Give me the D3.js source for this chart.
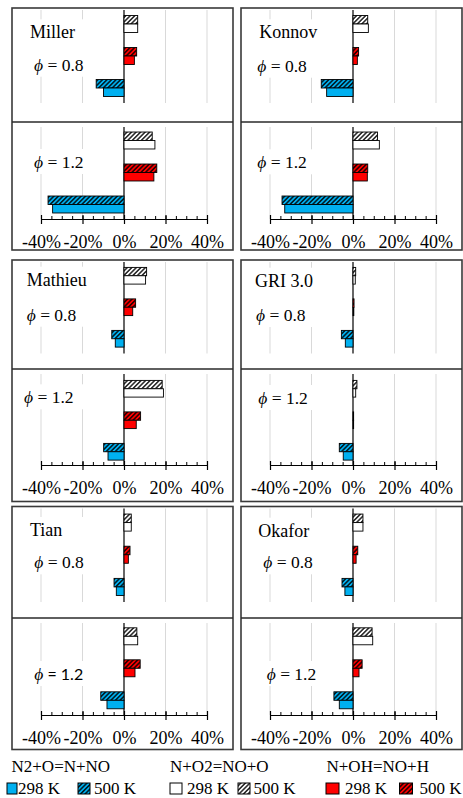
<!DOCTYPE html>
<html>
<head>
<meta charset="utf-8">
<script src="https://cdn.jsdelivr.net/npm/d3@7"></script>
<style>
  body { margin: 0; background: #fff; }
  text { font-family: "Liberation Serif", "Times New Roman", serif; fill: #000; }
</style>
</head>
<body>
<svg id="chart" width="463" height="798"></svg>
<script>
// mechanisms, drawn row by row (left, right)
const mechanisms = ["Miller", "Konnov", "Mathieu", "GRI 3.0", "Tian", "Okafor"];
const phiValues = ["0.8", "1.2"];
// reactions from top to bottom inside each box
const reactions = ["N+O2=NO+O", "N+OH=NO+H", "N2+O=N+NO"];
const temperatures = ["500 K", "298 K"];

// sensitivity in %, order: Miller 0.8, Miller 1.2, Konnov 0.8, Konnov 1.2, ... Okafor 1.2
const nO2_500  = [6.6, 13.6, 7.1, 11.8, 10.9, 18.4, 1.3, 1.9, 3.5, 6.2, 4.8, 9.2];
const nO2_298  = [6.6, 14.9, 7.4, 12.7, 10.4, 19.0, 1.1, 1.3, 3.5, 6.6, 4.8, 9.5];
const nOH_500  = [6.1, 15.8, 2.7, 7.1, 5.6, 8.0, 0.5, 0.3, 2.9, 7.8, 2.3, 4.4];
const nOH_298  = [5.0, 14.4, 2.1, 6.9, 4.2, 5.9, 0.4, 0.3, 2.1, 5.3, 1.5, 2.9];
const n2O_500  = [-13.4, -36.6, -15.3, -34.2, -5.9, -9.8, -5.6, -6.6, -4.8, -11.2, -5.3, -9.2];
const n2O_298  = [-9.9, -34.4, -12.7, -32.9, -4.2, -7.7, -3.7, -4.7, -3.7, -8.2, -3.9, -6.6];

const xTicks = [-40, -20, 0, 20, 40];
const xMinorTicks = d3.range(-40, 41, 5);
const gridTicks = [-40, -20, 20, 40];

const colors = { "N2+O=N+NO": "#00B0F0", "N+O2=NO+O": "#FFFFFF", "N+OH=NO+H": "#FF0000" };

const valueTable = {
  "N+O2=NO+O": { "500 K": nO2_500, "298 K": nO2_298 },
  "N+OH=NO+H": { "500 K": nOH_500, "298 K": nOH_298 },
  "N2+O=N+NO": { "500 K": n2O_500, "298 K": n2O_298 }
};

// layout of the panel grid
const colLeft = [12, 241];
const colWidth = 221;
const rows = [
  { top: 8,     div: 122, bottom: 250,   axis: 219, plots: [[8, 104], [124.5, 220.5]] },
  { top: 260,   div: 369, bottom: 501.5, axis: 465, plots: [[260, 354.5], [373, 467.5]] },
  { top: 506.5, div: 618, bottom: 749.5, axis: 715, plots: [[506.5, 603], [620.3, 716.3]] }
];
// label anchors [name, phi 0.8, phi 1.2]
const labelPos = [
  [[30, 38.3], [34, 70.7], [34, 168]],
  [[259.3, 38.3], [257.3, 71.7], [257.3, 168.3]],
  [[26.7, 285.7], [26.7, 320.7], [24, 403.3]],
  [[255, 286.7], [256, 321], [258.3, 404]],
  [[30, 536], [34.3, 568.3], [34.3, 680]],
  [[258.3, 536.7], [263.3, 568.3], [266.7, 680]]
];

const svg = d3.select("#chart");
const defs = svg.append("defs");

// hatch patterns for the 500 K bars
Object.keys(colors).forEach(function(r, i) {
  const p = defs.append("pattern")
    .attr("id", "hatch" + i)
    .attr("patternUnits", "userSpaceOnUse")
    .attr("width", 3.2).attr("height", 3.2)
    .attr("patternTransform", "rotate(45)");
  p.append("rect").attr("width", 3.2).attr("height", 3.2).attr("fill", colors[r]);
  p.append("line").attr("x1", 0.8).attr("y1", 0).attr("x2", 0.8).attr("y2", 3.2)
    .attr("stroke", "#000").attr("stroke-width", 1.3);
});
const hatchId = {};
Object.keys(colors).forEach(function(r, i) { hatchId[r] = "url(#hatch" + i + ")"; });

function fillFor(r, t) {
  return t === "500 K" ? hatchId[r] : colors[r];
}

function phiLabel(g, x, y, value, family) {
  const t = g.append("text").attr("x", x).attr("y", y).style("font-size", "17.5px");
  t.append("tspan").style("font-style", "italic").text("\u03D5");
  t.append("tspan").style("font-family", family || null)
    .style("font-size", family ? "16px" : null).text(" = " + value);
  return t;
}

mechanisms.forEach(function(mech, m) {
  const row = rows[Math.floor(m / 2)];
  const left = colLeft[m % 2];
  const g = svg.append("g");

  const x = d3.scaleLinear().domain([-40, 40]).range([left + 29, left + 195]);

  phiValues.forEach(function(phi, p) {
    const idx = m * 2 + p;
    const [y0, y1] = row.plots[p];
    const lineTop = p === 0 ? row.top + 2 : row.div + 5;
    const lineBottom = p === 0 ? y1 - 1 : row.axis;

    // gridlines
    g.selectAll(null).data(gridTicks).enter().append("line")
      .attr("x1", d => x(d)).attr("x2", d => x(d))
      .attr("y1", lineTop).attr("y2", lineBottom)
      .attr("stroke", "#D9D9D9").attr("stroke-width", 1);

    // white box behind the labels
    const lab = g.append("g");
    let texts = [];
    if (p === 0) {
      texts.push(lab.append("text").attr("x", labelPos[m][0][0]).attr("y", labelPos[m][0][1])
        .style("font-size", "18px").text(mech));
      texts.push(phiLabel(lab, labelPos[m][1][0], labelPos[m][1][1], phi));
    } else {
      texts.push(phiLabel(lab, labelPos[m][2][0], labelPos[m][2][1], phi, mech === "Tian" ? "Lato" : null));
    }
    const boxes = texts.map(t => t.node().getBBox());
    const bTop = d3.min(boxes, b => b.y) - 3;
    const bBot = d3.max(boxes, b => b.y + b.height) + 2;
    lab.insert("rect", "text")
      .attr("x", left + 2).attr("y", bTop)
      .attr("width", x(0) - left - 3).attr("height", bBot - bTop)
      .attr("fill", "#fff");

    const yR = d3.scaleBand().domain(reactions).range([y0, y1]).paddingInner(0.47).paddingOuter(0.235);
    const yT = d3.scaleBand().domain(temperatures).range([0, yR.bandwidth()]);

    // zero line
    g.append("line")
      .attr("x1", x(0)).attr("x2", x(0))
      .attr("y1", lineTop).attr("y2", lineBottom)
      .attr("stroke", "#000").attr("stroke-width", 1.2);

    const bars = [];
    reactions.forEach(function(r) {
      temperatures.forEach(function(t) {
        bars.push({ r: r, t: t, v: valueTable[r][t][idx] });
      });
    });
    g.selectAll(null).data(bars).enter().append("rect")
      .attr("x", d => x(Math.min(0, d.v)))
      .attr("y", d => yR(d.r) + yT(d.t))
      .attr("width", d => Math.abs(x(d.v) - x(0)))
      .attr("height", yT.bandwidth())
      .attr("fill", d => fillFor(d.r, d.t))
      .attr("stroke", "#000").attr("stroke-width", 0.9);

    lab.raise();
  });

  // x axis at the bottom of the phi = 1.2 box
  const minor = g.append("g").attr("transform", "translate(0," + row.axis + ")")
    .call(d3.axisBottom(x).tickValues(xMinorTicks).tickSize(-3).tickSizeOuter(0).tickFormat(""));
  minor.select(".domain").remove();
  minor.selectAll("line").attr("stroke", "#000");

  const ax = g.append("g").attr("transform", "translate(0," + row.axis + ")")
    .call(d3.axisBottom(x).tickValues(xTicks).tickSize(5).tickSizeOuter(0).tickFormat(d => d + "%"));
  ax.select(".domain").attr("stroke", "#000").attr("stroke-width", 1.2);
  ax.selectAll(".tick line").attr("y1", -4).attr("y2", 5).attr("stroke", "#000").attr("stroke-width", 1.2);
  ax.selectAll(".tick text").attr("y", 29).attr("dy", null)
    .style("font-size", "18px").style("font-family", "Liberation Serif, serif").attr("fill", "#000");

  // panel frame and divider
  g.append("rect").attr("x", left).attr("y", row.top)
    .attr("width", colWidth).attr("height", row.bottom - row.top)
    .attr("fill", "none").attr("stroke", "#3A3A3A").attr("stroke-width", 1.6);
  g.append("line").attr("x1", left).attr("x2", left + colWidth)
    .attr("y1", row.div).attr("y2", row.div)
    .attr("stroke", "#2A2A2A").attr("stroke-width", 1.4);
});

// legend
const legendReactions = ["N2+O=N+NO", "N+O2=NO+O", "N+OH=NO+H"];
const legendTitleX = [11.5, 170, 326.5];
const legendSwatchX = [[7, 78], [170, 238], [326, 399.5]];
const legendSwatchW = [[10, 12], [12, 12], [13, 13]];
const legendTextX = [[18, 94], [187, 253.5], [345, 419.5]];
const legendTemps = ["298 K", "500 K"];

const lg = svg.append("g");
legendReactions.forEach(function(r, i) {
  lg.append("text").attr("x", legendTitleX[i]).attr("y", 771.5)
    .style("font-size", "17px").text(r);
  legendTemps.forEach(function(t, j) {
    lg.append("rect").attr("x", legendSwatchX[i][j]).attr("y", 783)
      .attr("width", legendSwatchW[i][j]).attr("height", 11)
      .attr("fill", fillFor(r, t)).attr("stroke", "#000").attr("stroke-width", 1);
    lg.append("text").attr("x", legendTextX[i][j]).attr("y", 794)
      .style("font-size", "17px").text(t);
  });
});
</script>
</body>
</html>
